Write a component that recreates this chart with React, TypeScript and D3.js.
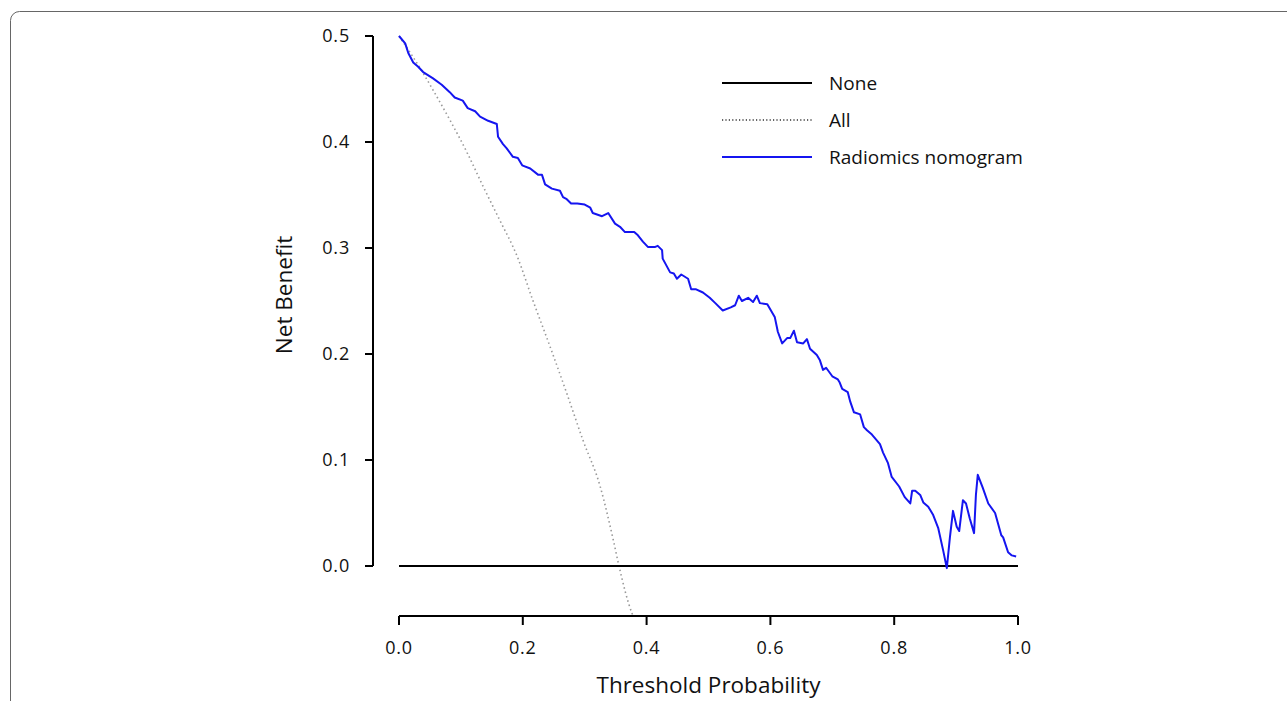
import React from "react";
import * as d3 from "d3";

const thresholds = [0.000,0.010,0.015,0.023,0.031,0.039,0.055,0.069,0.082,0.090,0.103,0.111,0.123,0.131,0.144,0.158,0.160,0.168,0.174,0.184,0.192,0.199,0.212,0.225,0.231,0.236,0.247,0.260,0.265,0.271,0.278,0.288,0.300,0.309,0.313,0.328,0.338,0.349,0.357,0.365,0.380,0.386,0.394,0.402,0.414,0.418,0.425,0.426,0.438,0.444,0.449,0.456,0.467,0.472,0.480,0.491,0.502,0.511,0.523,0.536,0.543,0.549,0.554,0.564,0.572,0.578,0.583,0.595,0.607,0.612,0.619,0.627,0.632,0.638,0.643,0.653,0.659,0.664,0.675,0.680,0.685,0.690,0.700,0.709,0.712,0.716,0.725,0.729,0.735,0.745,0.751,0.756,0.764,0.777,0.782,0.790,0.796,0.808,0.817,0.826,0.829,0.834,0.842,0.847,0.855,0.863,0.871,0.879,0.885,0.890,0.895,0.901,0.905,0.911,0.916,0.922,0.929,0.932,0.935,0.943,0.952,0.963,0.973,0.976,0.984,0.990,0.997];
const nomogramNB = [0.500,0.493,0.484,0.475,0.471,0.466,0.460,0.454,0.447,0.442,0.439,0.432,0.429,0.424,0.420,0.417,0.405,0.398,0.394,0.386,0.385,0.378,0.375,0.369,0.369,0.360,0.356,0.354,0.348,0.346,0.342,0.342,0.341,0.338,0.333,0.330,0.333,0.323,0.320,0.315,0.315,0.312,0.306,0.301,0.301,0.302,0.298,0.290,0.277,0.276,0.271,0.275,0.271,0.261,0.261,0.258,0.253,0.248,0.241,0.244,0.246,0.255,0.250,0.253,0.249,0.255,0.248,0.247,0.235,0.221,0.210,0.215,0.215,0.222,0.211,0.210,0.214,0.205,0.199,0.194,0.185,0.187,0.179,0.176,0.173,0.167,0.164,0.155,0.145,0.143,0.131,0.128,0.124,0.115,0.107,0.097,0.084,0.075,0.065,0.059,0.071,0.071,0.067,0.060,0.056,0.048,0.036,0.015,-0.002,0.027,0.052,0.037,0.033,0.062,0.059,0.045,0.031,0.067,0.086,0.074,0.059,0.050,0.029,0.027,0.013,0.010,0.009];

const allThresholds = [0.000,0.039,0.055,0.082,0.110,0.136,0.163,0.191,0.216,0.244,0.271,0.297,0.325,0.346,0.355,0.376,0.385];
const allNB = [0.500,0.465,0.449,0.421,0.390,0.358,0.326,0.292,0.251,0.207,0.163,0.119,0.075,0.025,0.001,-0.044,-0.055];

const noneThresholds = [0, 1];
const noneNB = [0, 0];

const xTicks = [0, 0.2, 0.4, 0.6, 0.8, 1.0];
const yTicks = [0, 0.1, 0.2, 0.3, 0.4, 0.5];

const legendLabels = ["None", "All", "Radiomics nomogram"];

const FONT = "'Open Sans', 'Noto Sans', sans-serif";

export default function App() {
  const x = d3.scaleLinear().domain([0, 1]).range([399, 1018]);
  const y = d3.scaleLinear().domain([0, 0.5]).range([566, 36]);
  const plotBottom = 616;
  const axisX = 373;

  const line = d3.line<[number, number]>().x(d => x(d[0])).y(d => y(d[1]));
  const smooth = d3.line<[number, number]>().x(d => x(d[0])).y(d => y(d[1])).curve(d3.curveMonotoneX);
  const nomoPath = line(thresholds.map((t, i) => [t, nomogramNB[i]] as [number, number])) || "";
  const allPath = smooth(allThresholds.map((t, i) => [t, allNB[i]] as [number, number])) || "";
  const nonePath = line(noneThresholds.map((t, i) => [t, noneNB[i]] as [number, number])) || "";

  const legendStyles = [
    { stroke: "#000", dash: undefined as string | undefined, width: 2 },
    { stroke: "#333", dash: "1.2,2.2", width: 1.3 },
    { stroke: "#1515f0", dash: undefined, width: 2 },
  ];

  return (
    <svg width={1287} height={701} style={{ position: "absolute", left: 0, top: 0, background: "#fff" }}>
      <defs>
        <clipPath id="plotClip">
          <rect x={380} y={20} width={660} height={plotBottom - 20} />
        </clipPath>
      </defs>
      <rect x={10.5} y={11.5} width={1400} height={900} rx={9} ry={9} fill="none" stroke="#666" strokeWidth={1} />

      {/* Y axis */}
      <line x1={axisX} x2={axisX} y1={y(0)} y2={y(0.5)} stroke="#000" strokeWidth={2} />
      {yTicks.map(t => (
        <g key={"y" + t}>
          <line x1={axisX - 8} x2={axisX} y1={y(t)} y2={y(t)} stroke="#000" strokeWidth={2} />
          <text x={350} y={y(t)} dy="0.35em" textAnchor="end" fontFamily={FONT} fontSize={18} letterSpacing={0.8} fill="#111">
            {d3.format(".1f")(t)}
          </text>
        </g>
      ))}
      <text transform={`translate(292,295) rotate(-90)`} textAnchor="middle" fontFamily={FONT} fontSize={22.5} fill="#111">
        Net Benefit
      </text>

      {/* X axis */}
      <line x1={x(0)} x2={x(1)} y1={plotBottom} y2={plotBottom} stroke="#000" strokeWidth={2} />
      {xTicks.map(t => (
        <g key={"x" + t}>
          <line x1={x(t)} x2={x(t)} y1={plotBottom} y2={plotBottom + 9} stroke="#000" strokeWidth={2} />
          <text x={x(t)} y={648} dy="0.35em" textAnchor="middle" fontFamily={FONT} fontSize={18} letterSpacing={0.8} fill="#111">
            {d3.format(".1f")(t)}
          </text>
        </g>
      ))}
      <text x={(x(0) + x(1)) / 2} y={685} dy="0.35em" textAnchor="middle" fontFamily={FONT} fontSize={22.5} fill="#111">
        Threshold Probability
      </text>

      {/* Lines */}
      <g clipPath="url(#plotClip)">
        <path d={allPath} fill="none" stroke="#999" strokeWidth={1.6} strokeDasharray="1.5,3" />
        <path d={nonePath} fill="none" stroke="#000" strokeWidth={2} />
        <path d={nomoPath} fill="none" stroke="#1515f0" strokeWidth={2} strokeLinejoin="round" />
      </g>

      {/* Legend */}
      {legendLabels.map((lab, i) => (
        <g key={lab} transform={`translate(0,${83 + i * 37})`}>
          <line x1={722} x2={812} y1={0} y2={0} stroke={legendStyles[i].stroke} strokeWidth={legendStyles[i].width} strokeDasharray={legendStyles[i].dash} />
          <text x={829} y={0} dy="0.35em" fontFamily={FONT} fontSize={19} fill="#111">{lab}</text>
        </g>
      ))}
    </svg>
  );
}
